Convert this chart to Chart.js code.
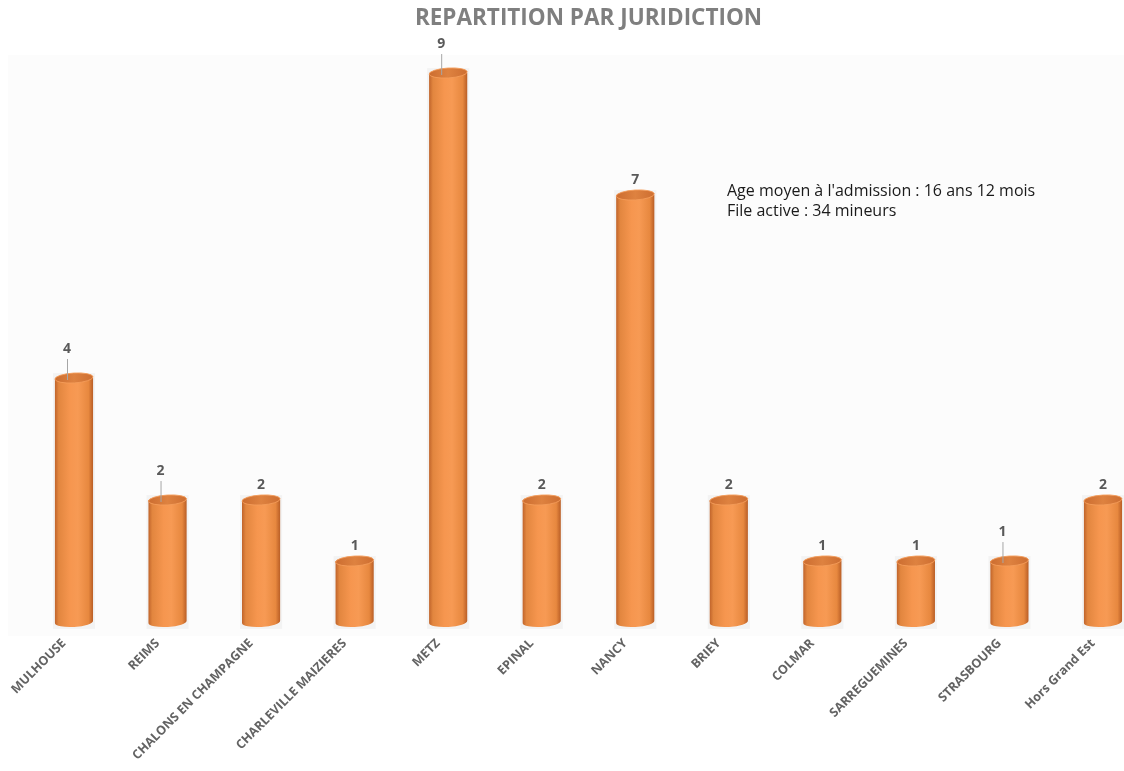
<!DOCTYPE html>
<html>
<head>
<meta charset="utf-8">
<script src="https://cdn.jsdelivr.net/npm/chart.js@4"></script>
<style>
  html, body { margin: 0; padding: 0; background: #fff; }
  #wrap { width: 1124px; height: 771px; }
</style>
</head>
<body>
<div id="wrap"><canvas id="chart"></canvas></div>
<script>
const juridictions = ['MULHOUSE', 'REIMS', 'CHALONS EN CHAMPAGNE', 'CHARLEVILLE MAIZIERES', 'METZ', 'EPINAL',
  'NANCY', 'BRIEY', 'COLMAR', 'SARREGUEMINES', 'STRASBOURG', 'Hors Grand Est'];
const mineurs = [4, 2, 2, 1, 9, 2, 7, 2, 1, 1, 1, 2];
const notes = ["Age moyen à l'admission : 16 ans 12 mois", 'File active : 34 mineurs'];
// labels that sit higher with a small leader line
const leaderIdx = [0, 1, 4, 10];

const cylinders = {
  id: 'cylinders',
  beforeDraw(chart) {
    const { ctx, chartArea } = chart;
    ctx.save();
    ctx.fillStyle = '#fcfcfc';
    ctx.fillRect(8, chartArea.top - 18, chart.width - 8, chartArea.bottom - chartArea.top + 32);
    ctx.restore();
  },
  afterDatasetsDraw(chart) {
    const { ctx } = chart;
    const meta = chart.getDatasetMeta(0);
    ctx.save();
    meta.data.forEach((bar, i) => {
      const w = bar.width, x0 = bar.x - w / 2, x1 = bar.x + w / 2;
      const top = bar.y, base = bar.base;
      const ry = w * 0.13;
      const rot = -0.06;

      // soft halo
      ctx.fillStyle = 'rgba(0,0,0,0.035)';
      ctx.fillRect(x0 - 2, top - ry, w + 4, base - top + ry * 2 + 2);

      const g = ctx.createLinearGradient(x0, 0, x1, 0);
      g.addColorStop(0, '#c0642b');
      g.addColorStop(0.1, '#e2863f');
      g.addColorStop(0.4, '#f6964f');
      g.addColorStop(0.6, '#f79a54');
      g.addColorStop(0.88, '#e7883f');
      g.addColorStop(1, '#b95e26');
      ctx.fillStyle = g;
      ctx.beginPath();
      ctx.moveTo(x0, top);
      ctx.lineTo(x0, base);
      ctx.ellipse(bar.x, base, w / 2, ry, rot, Math.PI, 0, true);
      ctx.lineTo(x1, top);
      ctx.closePath();
      ctx.fill();

      // top cap
      const tg = ctx.createLinearGradient(x0, 0, x1, 0);
      tg.addColorStop(0, '#cc6d30');
      tg.addColorStop(0.5, '#de8240');
      tg.addColorStop(1, '#cd6e31');
      ctx.fillStyle = tg;
      ctx.beginPath();
      ctx.ellipse(bar.x, top, w / 2, ry, rot, 0, Math.PI * 2);
      ctx.fill();
      ctx.strokeStyle = 'rgba(244,156,90,0.9)';
      ctx.lineWidth = 1;
      ctx.stroke();

      // value label
      ctx.font = 'bold 14px "Open Sans", sans-serif';
      ctx.fillStyle = '#595959';
      ctx.textAlign = 'center';
      ctx.textBaseline = 'middle';
      const v = mineurs[i];
      if (leaderIdx.includes(i)) {
        const lx = bar.x - 7;
        ctx.fillText(v, lx, top - ry - 24);
        ctx.strokeStyle = '#a6a6a6';
        ctx.beginPath();
        ctx.moveTo(lx + 0.5, top - ry - 14);
        ctx.lineTo(lx + 0.5, top + 2);
        ctx.stroke();
      } else {
        ctx.fillText(v, bar.x, top - ry - 10);
      }
    });

    // annotation
    ctx.font = '16px "Open Sans", sans-serif';
    ctx.fillStyle = '#1a1a1a';
    ctx.textAlign = 'left';
    ctx.textBaseline = 'alphabetic';
    notes.forEach((t, k) => ctx.fillText(t, 727, 196 + k * 20));
    ctx.restore();
  }
};

new Chart(document.getElementById('chart'), {
  type: 'bar',
  data: {
    labels: juridictions,
    datasets: [{
      data: mineurs,
      backgroundColor: 'rgba(0,0,0,0)',
      categoryPercentage: 0.8,
      barPercentage: 0.51
    }]
  },
  options: {
    responsive: true,
    maintainAspectRatio: false,
    animation: false,
    layout: { padding: { left: 74, right: 21, top: 0, bottom: 0 } },
    plugins: {
      legend: { display: false },
      tooltip: { enabled: false },
      title: {
        display: true,
        text: 'REPARTITION PAR JURIDICTION',
        color: '#7f7f7f',
        font: { family: '"Open Sans", sans-serif', size: 22.5, weight: 'bold' },
        padding: { top: 5, bottom: 41 }
      }
    },
    scales: {
      x: {
        offset: false,
        grid: { display: false },
        border: { display: false },
        ticks: {
          autoSkip: false,
          maxRotation: 45,
          minRotation: 45,
          labelOffset: -10,
          padding: 6,
          color: '#636363',
          font: { family: '"Open Sans", sans-serif', size: 12.5, weight: 'bold' }
        },
        afterFit(scale) { scale.height = 149; }
      },
      y: {
        display: false,
        min: 0,
        max: 9
      }
    }
  },
  plugins: [cylinders]
});
</script>
</body>
</html>
